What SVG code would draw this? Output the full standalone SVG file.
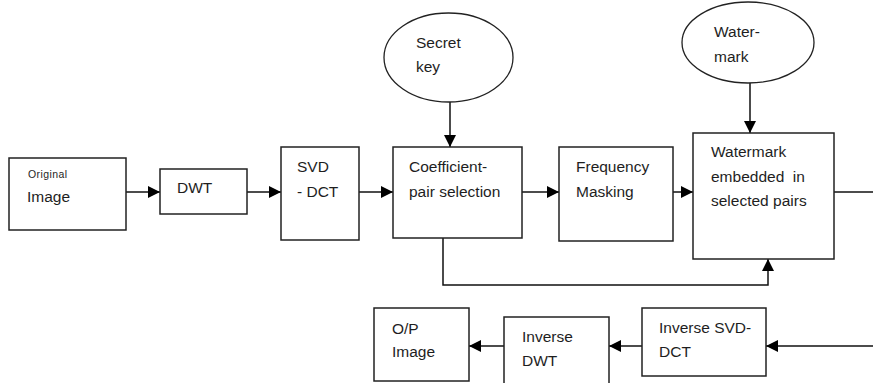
<svg xmlns="http://www.w3.org/2000/svg" width="873" height="383" viewBox="0 0 873 383">
  <style>
    .box { fill: #fff; stroke: #222; stroke-width: 1.5; }
    .oval { fill: #fff; stroke: #222; stroke-width: 1.3; }
    .lbl { font-family: "Liberation Sans", Arial, sans-serif; font-size: 15.5px; fill: #1e1e1e; }
    .small { font-size: 10.5px; letter-spacing: 0.4px; }
    .wire { fill: none; stroke: #111; stroke-width: 1.5; }
  </style>
  <defs>
    <marker id="arrow" markerUnits="userSpaceOnUse" markerWidth="12" markerHeight="12" viewBox="0 0 12 12" refX="12" refY="6" orient="auto">
      <path d="M0,0 L12,6 L0,12 Z" fill="#000"/>
    </marker>
  </defs>
  <rect width="873" height="383" fill="#fff"/>

  <!-- connectors -->
  <g id="connectors">
    <line class="wire" x1="126" y1="192" x2="160" y2="192" marker-end="url(#arrow)"/>
    <line class="wire" x1="247" y1="192" x2="281" y2="192" marker-end="url(#arrow)"/>
    <line class="wire" x1="359" y1="192" x2="393" y2="192" marker-end="url(#arrow)"/>
    <line class="wire" x1="522" y1="192" x2="559" y2="192" marker-end="url(#arrow)"/>
    <line class="wire" x1="673" y1="192" x2="693" y2="192" marker-end="url(#arrow)"/>
    <line class="wire" x1="834" y1="192" x2="873" y2="192"/>
    <line class="wire" x1="450" y1="102" x2="450" y2="147" marker-end="url(#arrow)"/>
    <line class="wire" x1="750" y1="83" x2="750" y2="133" marker-end="url(#arrow)"/>
    <polyline class="wire" points="443,238 443,285 768,285 768,259" marker-end="url(#arrow)"/>
    <line class="wire" x1="873" y1="346" x2="766" y2="346" marker-end="url(#arrow)"/>
    <line class="wire" x1="642" y1="346" x2="609" y2="346" marker-end="url(#arrow)"/>
    <line class="wire" x1="504" y1="346" x2="469" y2="346" marker-end="url(#arrow)"/>
  </g>

  <g id="original-image">
    <rect class="box" x="9" y="158" width="117" height="72"/>
    <text class="lbl small" x="28" y="178">Original</text>
    <text class="lbl" x="27" y="202">Image</text>
  </g>

  <g id="dwt">
    <rect class="box" x="160" y="169" width="87" height="45"/>
    <text class="lbl" x="177" y="193">DWT</text>
  </g>

  <g id="svd-dct">
    <rect class="box" x="281" y="147" width="78" height="93"/>
    <text class="lbl" x="297" y="172">SVD</text>
    <text class="lbl" x="297" y="197">- DCT</text>
  </g>

  <g id="secret-key">
    <ellipse class="oval" cx="448.5" cy="57.5" rx="64.5" ry="44.5"/>
    <text class="lbl" x="416" y="48">Secret</text>
    <text class="lbl" x="416" y="72">key</text>
  </g>

  <g id="coefficient-selection">
    <rect class="box" x="393" y="147" width="129" height="91"/>
    <text class="lbl" x="409" y="172">Coefficient-</text>
    <text class="lbl" x="409" y="197">pair selection</text>
  </g>

  <g id="frequency-masking">
    <rect class="box" x="559" y="147" width="114" height="94"/>
    <text class="lbl" x="576" y="172">Frequency</text>
    <text class="lbl" x="576" y="197">Masking</text>
  </g>

  <g id="watermark">
    <ellipse class="oval" cx="748" cy="42.5" rx="66" ry="40.5"/>
    <text class="lbl" x="714" y="37">Water-</text>
    <text class="lbl" x="714" y="62">mark</text>
  </g>

  <g id="embedding">
    <rect class="box" x="693" y="133" width="141" height="126"/>
    <text class="lbl" x="711" y="157">Watermark</text>
    <text class="lbl" x="711" y="182" xml:space="preserve">embedded  in</text>
    <text class="lbl" x="711" y="206">selected pairs</text>
  </g>

  <g id="inverse-svd-dct">
    <rect class="box" x="642" y="308" width="124" height="68"/>
    <text class="lbl" x="659" y="333">Inverse SVD-</text>
    <text class="lbl" x="659" y="357">DCT</text>
  </g>

  <g id="inverse-dwt">
    <rect class="box" x="504" y="317" width="105" height="70"/>
    <text class="lbl" x="522" y="342">Inverse</text>
    <text class="lbl" x="522" y="366">DWT</text>
  </g>

  <g id="output-image">
    <rect class="box" x="374" y="308" width="95" height="73"/>
    <text class="lbl" x="392" y="334">O/P</text>
    <text class="lbl" x="392" y="357">Image</text>
  </g>
</svg>
